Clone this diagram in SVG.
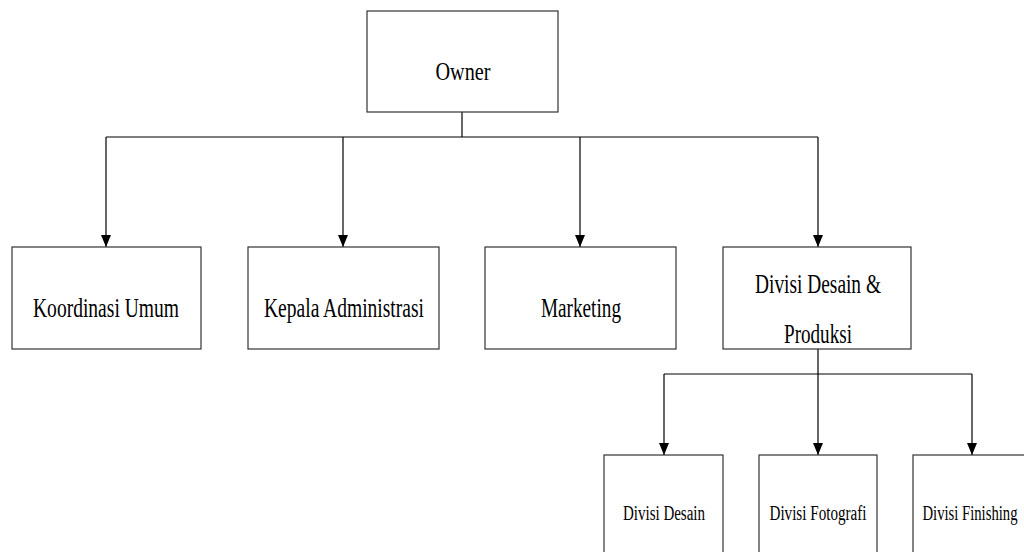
<svg xmlns="http://www.w3.org/2000/svg" width="1024" height="552" viewBox="0 0 1024 552">
  <defs>
    <marker id="arr" markerWidth="12" markerHeight="10" refX="12" refY="5" orient="auto" markerUnits="userSpaceOnUse" viewBox="0 0 12 10">
      <path d="M0,0 L12,5 L0,10 Z" fill="#000"/>
    </marker>
    <style>
      .box { fill: #fff; stroke: #333; stroke-width: 1.2; }
      .t { fill: #000; text-anchor: middle; }
      .l2 { font-size: 27px; }
      .l3 { font-size: 20px; }
      .c { fill: none; stroke: #000; stroke-width: 1.2; }
    </style>
  </defs>
  <rect width="1024" height="552" fill="#fff"/>

  <g id="connectors">
    <line class="c" x1="462" y1="112" x2="462" y2="137"/>
    <line class="c" x1="106" y1="137" x2="818" y2="137"/>
    <line class="c" x1="106" y1="137" x2="106" y2="247" marker-end="url(#arr)"/>
    <line class="c" x1="343" y1="137" x2="343" y2="247" marker-end="url(#arr)"/>
    <line class="c" x1="580" y1="137" x2="580" y2="247" marker-end="url(#arr)"/>
    <line class="c" x1="818" y1="137" x2="818" y2="247" marker-end="url(#arr)"/>
    <line class="c" x1="818" y1="349" x2="818" y2="374"/>
    <line class="c" x1="664" y1="374" x2="972" y2="374"/>
    <line class="c" x1="664" y1="374" x2="664" y2="455" marker-end="url(#arr)"/>
    <line class="c" x1="818" y1="374" x2="818" y2="455" marker-end="url(#arr)"/>
    <line class="c" x1="972" y1="374" x2="972" y2="455" marker-end="url(#arr)"/>
  </g>

  <g font-family="Liberation Serif, Times New Roman, serif">
  <g id="owner">
    <rect class="box" x="367" y="11" width="191" height="101"/>
    <text class="t" x="463" y="80" font-size="25" textLength="55" lengthAdjust="spacingAndGlyphs">Owner</text>
  </g>

  <g id="koordinasi-umum">
    <rect class="box" x="12" y="247" width="189" height="102"/>
    <text class="t l2" x="106" y="317" textLength="146" lengthAdjust="spacingAndGlyphs">Koordinasi Umum</text>
  </g>

  <g id="kepala-administrasi">
    <rect class="box" x="248" y="247" width="191" height="102"/>
    <text class="t l2" x="344" y="317" textLength="160" lengthAdjust="spacingAndGlyphs">Kepala Administrasi</text>
  </g>

  <g id="marketing">
    <rect class="box" x="485" y="247" width="191" height="102"/>
    <text class="t l2" x="581" y="317" textLength="80" lengthAdjust="spacingAndGlyphs">Marketing</text>
  </g>

  <g id="divisi-desain-produksi">
    <rect class="box" x="723" y="247" width="188" height="102"/>
    <text class="t l2" x="818" y="293" textLength="126" lengthAdjust="spacingAndGlyphs">Divisi Desain &amp;</text>
    <text class="t l2" x="818" y="343" textLength="68" lengthAdjust="spacingAndGlyphs">Produksi</text>
  </g>

  <g id="divisi-desain">
    <rect class="box" x="604" y="455" width="119" height="110"/>
    <text class="t l3" x="664" y="520" textLength="82" lengthAdjust="spacingAndGlyphs">Divisi Desain</text>
  </g>

  <g id="divisi-fotografi">
    <rect class="box" x="759" y="455" width="118" height="110"/>
    <text class="t l3" x="818" y="520" textLength="97" lengthAdjust="spacingAndGlyphs">Divisi Fotografi</text>
  </g>

  <g id="divisi-finishing">
    <rect class="box" x="913" y="455" width="119" height="110"/>
    <text class="t l3" x="970" y="520" textLength="95" lengthAdjust="spacingAndGlyphs">Divisi Finishing</text>
  </g>
  </g>
</svg>
